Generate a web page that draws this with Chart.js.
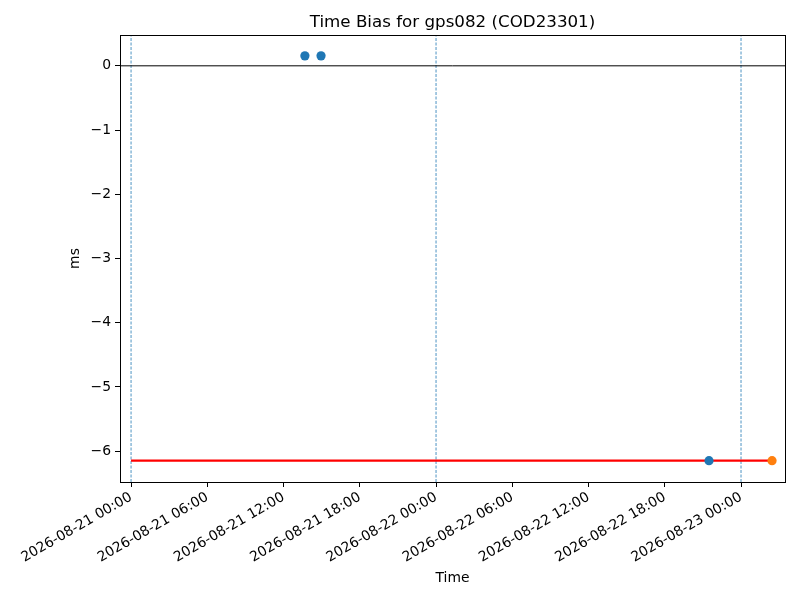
<!DOCTYPE html>
<html>
<head>
<meta charset="utf-8">
<script src="https://cdn.jsdelivr.net/npm/chart.js@4"></script>
<style>
  html, body { margin: 0; padding: 0; background: #fff; }
  canvas { display: block; }
</style>
</head>
<body>
<canvas id="biasChart" width="800" height="600"></canvas>
<script>
// time values are hours since 2026-08-21 00:00 UTC
const baseTime = Date.UTC(2026, 7, 21, 0, 0);
const xTicks = [0, 6, 12, 18, 24, 30, 36, 42, 48];
const yTicks = [0, -1, -2, -3, -4, -5, -6];
const xRange = [-0.87, 51.46];
const yRange = [-6.48, 0.48];

// measured bias points (ms)
const biasTimes = [13.68, 14.95, 45.48];
const biasValues = [0.155, 0.155, -6.148];

// latest point
const latestTime = [50.44];
const latestValue = [-6.148];

// reference level line
const refTimes = [0, 50.44];
const refValues = [-6.148, -6.148];

// day boundaries
const dayLines = [0, 24, 48];

const chartTitle = 'Time Bias for gps082 (COD23301)';

function fmtHour(h) {
    const d = new Date(baseTime + h * 3600000);
    const p = n => String(n).padStart(2, '0');
    return d.getUTCFullYear() + '-' + p(d.getUTCMonth() + 1) + '-' + p(d.getUTCDate()) +
        ' ' + p(d.getUTCHours()) + ':' + p(d.getUTCMinutes());
}

const datasets = [];

// vertical dashed lines at each day
dayLines.forEach(h => {
    datasets.push({
        type: 'line',
        data: [{x: h, y: yRange[0]}, {x: h, y: yRange[1]}],
        borderColor: '#1f77b4',
        borderWidth: 0.8,
        borderDash: [3, 1.5],
        pointRadius: 0,
        order: 5
    });
});

// zero line
datasets.push({
    type: 'line',
    data: [{x: xRange[0], y: 0}, {x: xRange[1], y: 0}],
    borderColor: '#000',
    borderWidth: 1,
    pointRadius: 0,
    order: 4
});

// red reference line
datasets.push({
    type: 'line',
    data: refTimes.map((t, i) => ({x: t, y: refValues[i]})),
    borderColor: '#ff0000',
    borderWidth: 2.2,
    pointRadius: 0,
    order: 3
});

datasets.push({
    type: 'scatter',
    data: biasTimes.map((t, i) => ({x: t, y: biasValues[i]})),
    backgroundColor: '#1f77b4',
    borderWidth: 0,
    pointRadius: 4.6,
    order: 2
});

datasets.push({
    type: 'scatter',
    data: latestTime.map((t, i) => ({x: t, y: latestValue[i]})),
    backgroundColor: '#ff7f0e',
    borderWidth: 0,
    pointRadius: 4.6,
    order: 1
});

// black frame round the plot area and title centred over it (matplotlib style)
const frame = {
    id: 'frame',
    afterDatasetsDraw(chart) {
        const a = chart.chartArea;
        const c = chart.ctx;
        c.save();
        c.strokeStyle = '#000';
        c.lineWidth = 1;
        c.strokeRect(Math.round(a.left) + 0.5, Math.round(a.top) + 0.5,
            Math.round(a.right - a.left), Math.round(a.bottom - a.top));
        c.fillStyle = '#000';
        c.font = '16.7px "DejaVu Sans"';
        c.textAlign = 'center';
        c.textBaseline = 'alphabetic';
        c.fillText(chartTitle, (a.left + a.right) / 2, a.top - 8);
        c.restore();
    }
};

const font = {family: 'DejaVu Sans', size: 13.9};

new Chart(document.getElementById('biasChart').getContext('2d'), {
    type: 'scatter',
    data: {datasets: datasets},
    plugins: [frame],
    options: {
        responsive: false,
        devicePixelRatio: 1,
        animation: false,
        layout: {padding: {left: 0, right: 15, top: 35, bottom: 0}},
        plugins: {
            legend: {display: false},
            tooltip: {enabled: false},
            title: {display: false}
        },
        scales: {
            x: {
                type: 'linear',
                min: xRange[0],
                max: xRange[1],
                afterBuildTicks: s => { s.ticks = xTicks.map(v => ({value: v})); },
                afterFit: s => { s.height = 118; },
                ticks: {
                    color: '#000',
                    font: font,
                    minRotation: 30,
                    maxRotation: 30,
                    padding: 2,
                    autoSkip: false,
                    callback: v => fmtHour(v)
                },
                grid: {drawOnChartArea: false, tickLength: 5, color: '#000'},
                border: {color: '#000', width: 1},
                title: {
                    display: true,
                    text: 'Time',
                    color: '#000',
                    font: font,
                    padding: {top: 0, bottom: 13}
                }
            },
            y: {
                type: 'linear',
                min: yRange[0],
                max: yRange[1],
                afterBuildTicks: s => { s.ticks = yTicks.map(v => ({value: v})); },
                afterFit: s => { s.width = 120; },
                ticks: {
                    color: '#000',
                    font: font,
                    padding: 4,
                    callback: v => v < 0 ? '\u2212' + Math.abs(v) : String(v)
                },
                grid: {drawOnChartArea: false, tickLength: 5, color: '#000'},
                border: {color: '#000', width: 1},
                title: {
                    display: true,
                    text: 'ms',
                    color: '#000',
                    font: font,
                    padding: {top: 67, bottom: 0}
                }
            }
        }
    }
});
</script>
</body>
</html>
